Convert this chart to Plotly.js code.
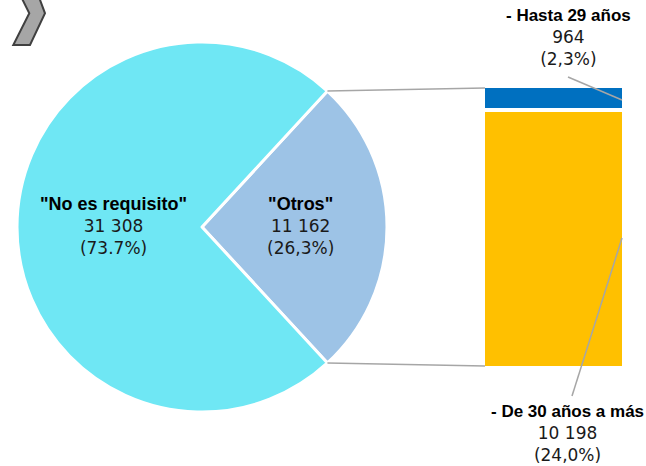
<!DOCTYPE html>
<html><head><meta charset="utf-8">
<script src="https://cdn.plot.ly/plotly-3.0.1.min.js"></script>
<style>html,body{margin:0;padding:0;background:#fff}</style>
</head><body><div id="chart" style="width:646px;height:466px"></div>
<script>
// Data
const pieLabels = ['"Otros"', '"No es requisito"'];
const pieValues = [11162, 31308];
const piePctText = ['26,3%', '73.7%'];
const pieColors = ['#9DC3E6', '#6FE7F4'];
const barLabels = ['- De 30 años a más', '- Hasta 29 años'];
const barValues = [10198, 964];
const barPctText = ['24,0%', '2,3%'];
const barColors = ['#FFC000', '#0070C0'];

const W = 646, H = 466;
const fmt = v => String(v).replace(/\B(?=(\d{3})+(?!\d))/g, ' ');
const px = x => x / W, py = y => 1 - y / H;

// pie geometry (layout)
const cx = 202, cy = 227, R = 185;
const total = pieValues[0] + pieValues[1];
const halfAng = Math.PI * pieValues[0] / total; // half of Otros slice angle
const otrosTotal = barValues[0] + barValues[1];

// bar geometry (layout)
const barX0 = 485, barX1 = 622, barTop = 88, barBot = 366, pad = 2;

const traces = [
  {
    type: 'pie', labels: pieLabels, values: pieValues, sort: false,
    direction: 'clockwise', rotation: 90 - 180 * pieValues[0] / total,
    marker: {colors: pieColors, line: {color: '#ffffff', width: 3}},
    textinfo: 'none', hoverinfo: 'none', showlegend: false,
    domain: {x: [px(cx - R), px(cx + R)], y: [py(cy + R), py(cy - R)]}
  }
];
barLabels.forEach((l, i) => traces.push({
  type: 'bar', x: [0], y: [barValues[i]], name: l, xaxis: 'x2', yaxis: 'y2',
  marker: {color: barColors[i], line: {color: '#ffffff', width: 4}},
  width: 1, showlegend: false, hoverinfo: 'none'
}));

const ax = {showgrid: false, zeroline: false, showticklabels: false, showline: false, ticks: ''};
const headFont = 'Liberation Sans, Arial, sans-serif';

function lab(x, y, title, v, pct, hs) {
  return {xref: 'paper', yref: 'paper', x: px(x), y: py(y), xanchor: 'center', yanchor: 'middle',
    showarrow: false, align: 'center', font: {family: 'DejaVu Sans, sans-serif', size: 17, color: '#1a1a1a'},
    text: '<span style="font-family:' + headFont + ';font-weight:bold;color:#000;font-size:' + hs + 'px">' + title + '</span><br>' + fmt(v) + '<br>(' + pct + ')'};
}

const gray = '#A6A6A6';
const pTop = [cx + R * Math.cos(halfAng), cy - R * Math.sin(halfAng)];
const pBot = [cx + R * Math.cos(halfAng), cy + R * Math.sin(halfAng)];

const layout = {
  width: W, height: H, margin: {l: 0, r: 0, t: 0, b: 0},
  paper_bgcolor: '#ffffff', plot_bgcolor: 'rgba(0,0,0,0)',
  barmode: 'stack', bargap: 0,
  xaxis2: Object.assign({domain: [px(barX0 - pad), px(barX1 + pad)], range: [-0.5, 0.5], anchor: 'y2', fixedrange: true}, ax),
  yaxis2: Object.assign({domain: [py(barBot + pad), py(barTop - pad)], range: [0, otrosTotal], anchor: 'x2', fixedrange: true}, ax),
  annotations: [
    lab(113, 226, pieLabels[1], pieValues[1], piePctText[1], 18),
    lab(300, 226, pieLabels[0], pieValues[0], piePctText[0], 18),
    lab(568, 38, barLabels[1], barValues[1], barPctText[1], 17),
    lab(567, 433, barLabels[0], barValues[0], barPctText[0], 17)
  ],
  shapes: [
    {type: 'line', xref: 'paper', yref: 'paper', x0: px(pTop[0]), y0: py(pTop[1]), x1: px(barX0), y1: py(barTop), line: {color: gray, width: 1.5}},
    {type: 'line', xref: 'paper', yref: 'paper', x0: px(pBot[0]), y0: py(pBot[1]), x1: px(barX0), y1: py(barBot), line: {color: gray, width: 1.5}},
    {type: 'line', xref: 'paper', yref: 'paper', x0: px(568), y0: py(77), x1: px(622), y1: py(100), line: {color: gray, width: 1.5}},
    {type: 'line', xref: 'paper', yref: 'paper', x0: px(622), y0: py(238), x1: px(572), y1: py(396), line: {color: gray, width: 1.5}},
    {type: 'path', xref: 'paper', yref: 'paper',
     path: 'M ' + [[21.7,-2],[39.3,-2],[45,13.3],[30,45],[13.3,45],[29.3,13.3]].map(p => px(p[0]) + ',' + py(p[1])).join(' L ') + ' Z',
     fillcolor: '#A6A6A6', line: {color: '#404040', width: 2}}
  ]
};

Plotly.newPlot('chart', traces, layout, {displayModeBar: false, staticPlot: true});
</script></body></html>
